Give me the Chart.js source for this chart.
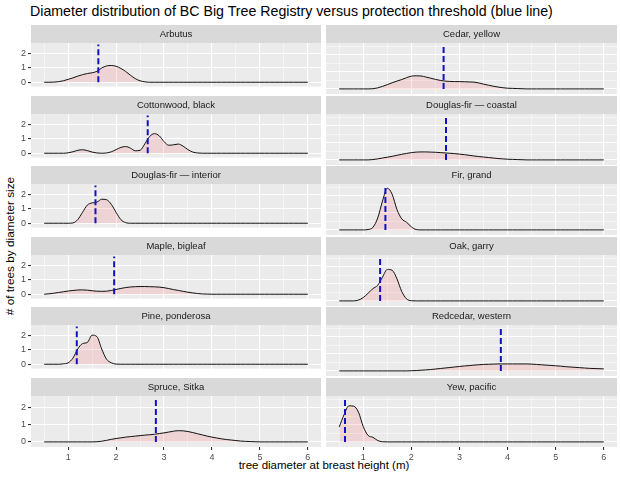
<!DOCTYPE html>
<html>
<head>
<meta charset="utf-8">
<script src="https://cdn.jsdelivr.net/npm/chart.js@4"></script>
<style>
  body { margin: 0; background: #fff; font-family: "Liberation Sans", Arial, sans-serif; }
  #wrap { position: relative; width: 620px; height: 479px; overflow: hidden; }
  canvas { position: absolute; }
  .title { position: absolute; left: 30px; top: 3px; font-size: 14.2px; color: #000; white-space: nowrap; }
  .xlab { position: absolute; left: 31px; width: 586px; top: 459px; text-align: center; font-size: 11.5px; color: #000; }
  .ylab { position: absolute; left: 10px; top: 246px; transform: translate(-50%, -50%) rotate(-90deg); font-size: 11.8px; color: #000; white-space: nowrap; }
</style>
</head>
<body>
<div id="wrap">
  <div class="title">Diameter distribution of BC Big Tree Registry versus protection threshold (blue line)</div>
  <div class="ylab"># of trees by diameter size</div>
  <div class="xlab">tree diameter at breast height (m)</div>
</div>
<script>
// tree diameter grid (m) the densities were read at
const xs = [0.5, 0.6, 0.7, 0.8, 0.9, 1.0, 1.1, 1.2, 1.3, 1.4,
            1.5, 1.6, 1.7, 1.8, 1.9, 2.0, 2.1, 2.2, 2.3, 2.4,
            2.5, 2.6, 2.7, 2.8, 2.9, 3.0, 3.1, 3.2, 3.3, 3.4,
            3.5, 3.6, 3.7, 3.8, 3.9, 4.0, 4.1, 4.2, 4.3, 4.4,
            4.5, 4.6, 4.7, 4.8, 4.9, 5.0, 5.1, 5.2, 5.3, 5.4,
            5.5, 5.6, 5.7, 5.8, 5.9, 6.0];

const species = ['Arbutus', 'Cedar, yellow', 'Cottonwood, black', 'Douglas-fir \u2014 coastal',
                 'Douglas-fir \u2014 interior', 'Fir, grand', 'Maple, bigleaf', 'Oak, garry',
                 'Pine, ponderosa', 'Redcedar, western', 'Spruce, Sitka', 'Yew, pacific'];

// protection threshold (m), blue dashed line
const thresholds = [1.63, 2.67, 2.66, 2.72, 1.57, 1.46, 1.96, 1.35, 1.18, 3.86, 2.83, 0.62];

const densArbutus = [0, 0, 0.01, 0.04, 0.1, 0.2, 0.3, 0.42, 0.52, 0.6,
  0.65, 0.75, 0.98, 1.12, 1.15, 1.1, 0.95, 0.74, 0.48, 0.25,
  0.1, 0.03, 0, 0, 0, 0, 0, 0, 0, 0,
  0, 0, 0, 0, 0, 0, 0, 0, 0, 0,
  0, 0, 0, 0, 0, 0, 0, 0, 0, 0,
  0, 0, 0, 0, 0, 0];
const densCedar = [0, 0, 0, 0, 0, 0, 0, 0.01, 0.06, 0.15,
  0.25, 0.36, 0.46, 0.55, 0.66, 0.75, 0.77, 0.76, 0.7, 0.63,
  0.56, 0.5, 0.46, 0.44, 0.43, 0.43, 0.42, 0.41, 0.4, 0.35,
  0.28, 0.22, 0.16, 0.11, 0.07, 0.04, 0.03, 0.02, 0.01, 0,
  0, 0, 0, 0, 0, 0, 0, 0, 0, 0,
  0, 0, 0, 0, 0, 0];
const densCottonwood = [0, 0, 0, 0, 0, 0.03, 0.1, 0.2, 0.24, 0.18,
  0.08, 0.02, 0, 0.02, 0.1, 0.25, 0.4, 0.46, 0.35, 0.17,
  0.2, 0.65, 1.15, 1.35, 1.2, 0.8, 0.55, 0.58, 0.63, 0.48,
  0.25, 0.08, 0.02, 0, 0, 0, 0, 0, 0, 0,
  0, 0, 0, 0, 0, 0, 0, 0, 0, 0,
  0, 0, 0, 0, 0, 0];
const densDfCoastal = [0, 0, 0, 0, 0, 0, 0, 0.02, 0.06, 0.11,
  0.16, 0.21, 0.27, 0.33, 0.38, 0.43, 0.46, 0.47, 0.47, 0.46,
  0.45, 0.43, 0.41, 0.39, 0.37, 0.34, 0.31, 0.27, 0.23, 0.2,
  0.17, 0.14, 0.11, 0.08, 0.06, 0.04, 0.03, 0.02, 0.01, 0,
  0, 0, 0, 0, 0, 0, 0, 0, 0, 0,
  0, 0, 0, 0, 0, 0];
const densDfInterior = [0, 0, 0, 0, 0, 0, 0.02, 0.25, 0.75, 1.25,
  1.4, 1.45, 1.65, 1.62, 1.3, 0.75, 0.25, 0.04, 0, 0,
  0, 0, 0, 0, 0, 0, 0, 0, 0, 0,
  0, 0, 0, 0, 0, 0, 0, 0, 0, 0,
  0, 0, 0, 0, 0, 0, 0, 0, 0, 0,
  0, 0, 0, 0, 0, 0];
const densFir = [0, 0, 0, 0, 0, 0, 0.02, 0.15, 0.7, 1.7,
  2.45, 2.1, 1.2, 0.65, 0.45, 0.18, 0.02, 0, 0, 0,
  0, 0, 0, 0, 0, 0, 0, 0, 0, 0,
  0, 0, 0, 0, 0, 0, 0, 0, 0, 0,
  0, 0, 0, 0, 0, 0, 0, 0, 0, 0,
  0, 0, 0, 0, 0, 0];
const densMaple = [0, 0.03, 0.07, 0.12, 0.17, 0.22, 0.26, 0.29, 0.3, 0.28,
  0.24, 0.21, 0.2, 0.21, 0.26, 0.33, 0.4, 0.46, 0.5, 0.52,
  0.53, 0.53, 0.52, 0.51, 0.49, 0.45, 0.39, 0.32, 0.26, 0.2,
  0.14, 0.09, 0.05, 0.02, 0.01, 0, 0, 0, 0, 0,
  0, 0, 0, 0, 0, 0, 0, 0, 0, 0,
  0, 0, 0, 0, 0, 0];
const densOak = [0, 0, 0, 0, 0.05, 0.2, 0.45, 0.72, 0.92, 1.4,
  1.85, 1.8, 1.3, 0.55, 0.12, 0.01, 0, 0, 0, 0,
  0, 0, 0, 0, 0, 0, 0, 0, 0, 0,
  0, 0, 0, 0, 0, 0, 0, 0, 0, 0,
  0, 0, 0, 0, 0, 0, 0, 0, 0, 0,
  0, 0, 0, 0, 0, 0];
const densPine = [0, 0, 0, 0, 0.03, 0.1, 0.42, 1.05, 1.42, 1.5,
  2.0, 1.9, 1.05, 0.35, 0.1, 0.01, 0, 0, 0, 0,
  0, 0, 0, 0, 0, 0, 0, 0, 0, 0,
  0, 0, 0, 0, 0, 0, 0, 0, 0, 0,
  0, 0, 0, 0, 0, 0, 0, 0, 0, 0,
  0, 0, 0, 0, 0, 0];
const densRedcedar = [0, 0, 0, 0, 0, 0, 0, 0, 0, 0,
  0, 0, 0, 0, 0, 0.01, 0.02, 0.04, 0.06, 0.08,
  0.11, 0.14, 0.17, 0.2, 0.23, 0.26, 0.29, 0.31, 0.34, 0.36,
  0.38, 0.39, 0.4, 0.41, 0.41, 0.41, 0.41, 0.41, 0.41, 0.41,
  0.4, 0.38, 0.36, 0.34, 0.32, 0.3, 0.28, 0.25, 0.23, 0.21,
  0.19, 0.17, 0.15, 0.14, 0.13, 0.12];
const densSpruce = [0, 0, 0, 0, 0, 0, 0, 0, 0, 0,
  0, 0.01, 0.04, 0.09, 0.15, 0.2, 0.24, 0.28, 0.31, 0.34,
  0.37, 0.4, 0.42, 0.45, 0.49, 0.53, 0.58, 0.63, 0.66, 0.65,
  0.61, 0.55, 0.48, 0.41, 0.34, 0.28, 0.23, 0.18, 0.14, 0.11,
  0.08, 0.05, 0.03, 0.02, 0.01, 0, 0, 0, 0, 0,
  0, 0, 0, 0, 0, 0];
const densYew = [0.88, 1.6, 2.12, 2.1, 1.75, 0.9, 0.38, 0.27, 0.08, 0.01,
  0, 0, 0, 0, 0, 0, 0, 0, 0, 0,
  0, 0, 0, 0, 0, 0, 0, 0, 0, 0,
  0, 0, 0, 0, 0, 0, 0, 0, 0, 0,
  0, 0, 0, 0, 0, 0, 0, 0, 0, 0,
  0, 0, 0, 0, 0, 0];

const densities = [densArbutus, densCedar, densCottonwood, densDfCoastal,
                   densDfInterior, densFir, densMaple, densOak,
                   densPine, densRedcedar, densSpruce, densYew];

const xBreaks = [0.5, 1, 1.5, 2, 2.5, 3, 3.5, 4, 4.5, 5, 5.5, 6];
const yBreaks = [0, 0.5, 1, 1.5, 2, 2.5];
const lineTop = 2.6;

// panel geometry (ggplot facet grid)
const rowTops = [43, 114, 184, 255, 325, 396];
const stripH = 18;
const panelH = 51;

// grey panel + facet strip
const facetPlugin = {
  id: 'facet',
  beforeDraw(chart, args, opts) {
    const { ctx, chartArea: a } = chart;
    ctx.save();
    ctx.fillStyle = '#EBEBEB';
    ctx.fillRect(a.left, a.top, a.right - a.left, a.bottom - a.top);
    ctx.fillStyle = '#D9D9D9';
    ctx.fillRect(a.left, a.top - stripH, a.right - a.left, stripH);
    ctx.fillStyle = '#1A1A1A';
    ctx.font = '9.5px "Liberation Sans", Arial, sans-serif';
    ctx.textAlign = 'center';
    ctx.textBaseline = 'middle';
    ctx.fillText(opts.label, (a.left + a.right) / 2, a.top - stripH / 2);
    ctx.restore();
  }
};

const wrap = document.getElementById('wrap');

species.forEach((name, i) => {
  const row = Math.floor(i / 2);
  const col = i % 2;
  const bottom = row === 5;
  const left = col === 0;

  const cv = document.createElement('canvas');
  const cvLeft = left ? 4 : 326;
  const cvW = left ? 317 : 291;
  const cvH = stripH + panelH + (bottom ? 16 : 0);
  cv.width = cvW;
  cv.height = cvH;
  cv.style.left = cvLeft + 'px';
  cv.style.top = (rowTops[row] - stripH) + 'px';
  wrap.appendChild(cv);

  const isMajor = v => Number.isInteger(v);

  new Chart(cv, {
    type: 'line',
    data: {
      datasets: [
        {
          data: xs.map((x, j) => ({ x: x, y: densities[i][j] })),
          borderColor: '#111',
          borderWidth: 1,
          backgroundColor: 'rgba(255, 0, 0, 0.1)',
          fill: 'origin',
          pointRadius: 0,
          cubicInterpolationMode: 'monotone',
          order: 2
        },
        {
          data: [{ x: thresholds[i], y: 0 }, { x: thresholds[i], y: lineTop }],
          borderColor: '#1212C4',
          borderWidth: 2,
          borderDash: [6, 3],
          fill: false,
          pointRadius: 0,
          order: 1
        }
      ]
    },
    options: {
      responsive: false,
      animation: false,
      devicePixelRatio: 1,
      events: [],
      layout: { padding: { top: stripH, left: 0, right: 0, bottom: 0 } },
      plugins: {
        legend: { display: false },
        tooltip: { enabled: false },
        facet: { label: name }
      },
      scales: {
        x: {
          type: 'linear',
          min: 0.225,
          max: 6.275,
          afterBuildTicks: s => { s.ticks = xBreaks.map(v => ({ value: v })); },
          afterFit: s => { s.height = bottom ? 16 : 0; },
          border: { display: false },
          grid: {
            color: '#FFFFFF',
            lineWidth: c => (c.tick && isMajor(c.tick.value)) ? 1.1 : 0.5,
            drawTicks: bottom,
            tickLength: 3,
            tickColor: c => (c.tick && isMajor(c.tick.value)) ? '#333333' : 'rgba(0,0,0,0)'
          },
          ticks: {
            display: bottom,
            autoSkip: false,
            maxRotation: 0,
            padding: 2,
            color: '#4D4D4D',
            font: { size: 9, family: '"Liberation Sans", Arial, sans-serif' },
            callback: v => isMajor(v) ? String(v) : ''
          }
        },
        y: {
          min: -0.3,
          max: 2.7,
          afterBuildTicks: s => { s.ticks = yBreaks.map(v => ({ value: v })); },
          afterFit: s => { s.width = left ? 27 : 0; },
          border: { display: false },
          grid: {
            color: '#FFFFFF',
            lineWidth: c => (c.tick && isMajor(c.tick.value)) ? 1.1 : 0.5,
            drawTicks: left,
            tickLength: 3,
            tickColor: c => (c.tick && isMajor(c.tick.value)) ? '#333333' : 'rgba(0,0,0,0)'
          },
          ticks: {
            display: left,
            padding: 2,
            color: '#4D4D4D',
            font: { size: 9, family: '"Liberation Sans", Arial, sans-serif' },
            callback: v => isMajor(v) ? String(v) : ''
          }
        }
      }
    },
    plugins: [facetPlugin]
  });
});
</script>
</body>
</html>
